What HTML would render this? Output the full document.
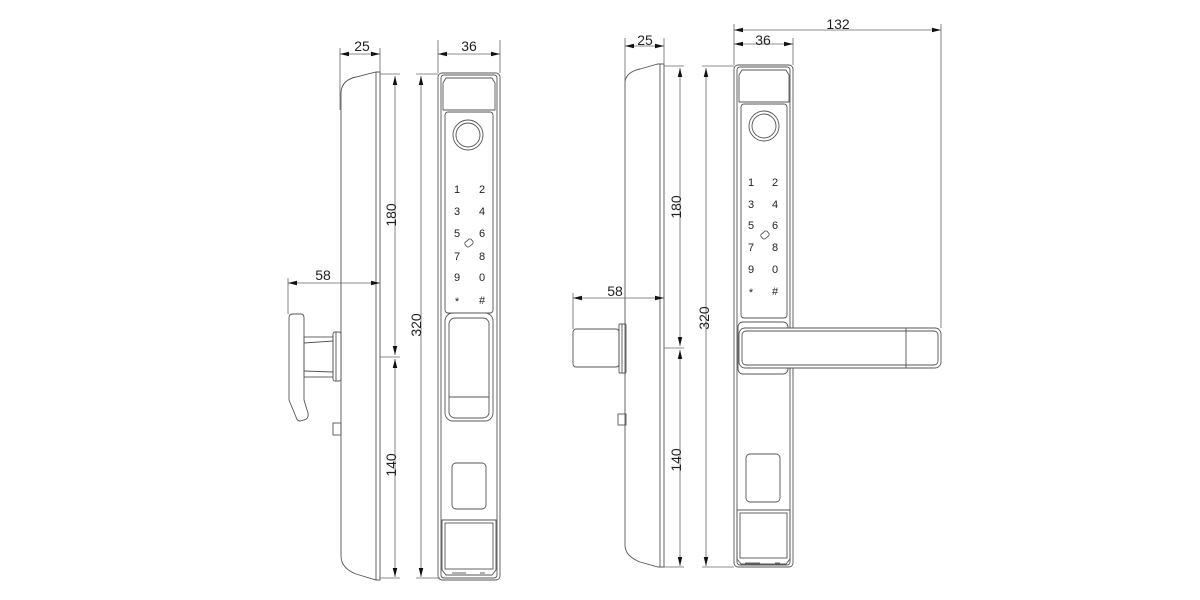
<!DOCTYPE html>
<html><head><meta charset="utf-8"><style>
html,body{margin:0;padding:0;background:#fff;width:1200px;height:600px;overflow:hidden}
svg text{font-family:"Liberation Sans",sans-serif;fill:#222}
</style></head><body>
<svg width="1200" height="600" viewBox="0 0 1200 600" xmlns="http://www.w3.org/2000/svg">
<defs>
<marker id="a" viewBox="0 0 10 10" refX="10" refY="5" markerWidth="9" markerHeight="9" orient="auto-start-reverse" markerUnits="userSpaceOnUse"><path d="M0,2.5 L10,5 L0,7.5z" fill="#111"/></marker>
</defs>
<g fill="none" stroke="#555" stroke-width="0.9">
<!-- ===== LEFT SIDE VIEW ===== -->
<path d="M341,110 L341,92 Q342,80 356,77 L376,72 L380,72 L380,580 L376,580 L356,574 Q341,568 341,556 L341,520"/>
<line x1="341" y1="110" x2="341" y2="520"/>
<line x1="376" y1="72" x2="376" y2="580"/>
<!-- knob -->
<path d="M289,318 Q289,314 293,314 L301,314 Q304,314 304,318 L304,400 L308,413 Q309,419 304,420 L300,421 Q297,421 296,417 L289,400 Z"/>
<rect x="304" y="337" width="29" height="40"/>
<line x1="304" y1="343" x2="333" y2="341"/><line x1="304" y1="371" x2="333" y2="372"/>
<rect x="333" y="332" width="8" height="49" rx="2"/>
<line x1="336" y1="332" x2="336" y2="381"/>
<rect x="333" y="423" width="8" height="12"/>
<!-- ===== LEFT FRONT VIEW ===== -->
<rect x="438" y="73" width="62" height="507" rx="4"/>
<rect x="441" y="75" width="56" height="503" rx="3"/>
<path d="M443,83 L446,78 L492,78 L495,83 L495,110 L443,110 Z"/>
<rect x="445" y="112" width="48" height="201" rx="3"/>
<circle cx="468" cy="135" r="15"/><circle cx="468" cy="135" r="12"/>
<rect x="445" y="313" width="48" height="108" rx="8"/>
<rect x="449" y="318" width="40" height="100" rx="6"/>
<line x1="449" y1="397" x2="489" y2="397"/>
<rect x="452" y="463" width="34" height="46" rx="4"/>
<path d="M442,520 L496,520 L496,570 L492,575 L446,575 L442,570 Z"/>
<rect x="445" y="523" width="48" height="46"/>
<line x1="452" y1="573" x2="466" y2="573"/><line x1="480" y1="573" x2="485" y2="573"/>
<!-- ===== RIGHT SIDE VIEW ===== -->
<path d="M625,100 L625,82 Q626,72 640,69 L658,64 L664,64 L664,567 L658,567 L640,562 Q625,556 625,545 L625,520"/>
<line x1="625" y1="100" x2="625" y2="520"/>
<line x1="660" y1="64" x2="660" y2="567"/>
<rect x="573" y="329" width="46" height="38" rx="3"/>
<rect x="619" y="324" width="7" height="49" rx="1"/>
<line x1="622" y1="324" x2="622" y2="373"/>
<rect x="618" y="414" width="8" height="11"/>
<!-- ===== RIGHT FRONT VIEW ===== -->
<rect x="734" y="65" width="59" height="502" rx="4"/>
<rect x="737" y="67" width="53" height="498" rx="3"/>
<path d="M739,75 L742,70 L786,70 L789,75 L789,102 L739,102 Z"/>
<rect x="741" y="104" width="46" height="214" rx="3"/>
<circle cx="764" cy="126" r="15"/><circle cx="764" cy="126" r="12"/>
<rect x="738" y="322" width="50" height="52" rx="5" fill="#fff"/>
<rect x="739" y="328" width="202" height="40" rx="6" fill="#fff"/>
<rect x="742" y="331" width="196" height="34" rx="4"/>
<line x1="906" y1="328" x2="906" y2="368"/>
<rect x="746" y="454" width="34" height="48" rx="4"/>
<path d="M737,510 L790,510 L790,559 L786,564 L741,564 L737,559 Z"/>
<rect x="740" y="513" width="47" height="45"/>
<line x1="745" y1="563" x2="760" y2="563"/><line x1="775" y1="563" x2="780" y2="563"/>
</g>
<!-- keypad text -->
<g font-size="11" text-anchor="middle" style="fill:#555">
<text x="457" y="193">1</text><text x="482" y="193">2</text>
<text x="457" y="215">3</text><text x="482" y="215">4</text>
<text x="457" y="237">5</text><text x="482" y="237">6</text>
<text x="457" y="260">7</text><text x="482" y="260">8</text>
<text x="457" y="281">9</text><text x="482" y="281">0</text>
<text x="457" y="305">*</text><text x="482" y="304">#</text>
<text x="751" y="186">1</text><text x="775" y="186">2</text>
<text x="751" y="208">3</text><text x="775" y="208">4</text>
<text x="751" y="229">5</text><text x="775" y="229">6</text>
<text x="751" y="251">7</text><text x="775" y="251">8</text>
<text x="751" y="273">9</text><text x="775" y="273">0</text>
<text x="751" y="296">*</text><text x="775" y="295">#</text>
</g>
<g fill="none" stroke="#555" stroke-width="0.9">
<rect x="465" y="240" width="8" height="6" rx="2" transform="rotate(-40 469 243)"/>
<rect x="761" y="232" width="8" height="6" rx="2" transform="rotate(-40 765 235)"/>
</g>
<!-- ===== DIMENSIONS ===== -->
<g stroke="#666" stroke-width="0.8" fill="none">
<line x1="340" y1="48" x2="340" y2="110"/><line x1="380" y1="48" x2="380" y2="72"/>
<line x1="340" y1="54" x2="380" y2="54" marker-start="url(#a)" marker-end="url(#a)"/>
<line x1="438" y1="40" x2="438" y2="73"/><line x1="500" y1="40" x2="500" y2="73"/>
<line x1="438" y1="54" x2="500" y2="54" marker-start="url(#a)" marker-end="url(#a)"/>
<line x1="380" y1="74" x2="400" y2="74"/>
<line x1="395" y1="76" x2="395" y2="355" marker-start="url(#a)" marker-end="url(#a)"/>
<line x1="380" y1="357" x2="400" y2="357"/>
<line x1="395" y1="359" x2="395" y2="577" marker-start="url(#a)" marker-end="url(#a)"/>
<line x1="380" y1="578" x2="400" y2="578"/>
<line x1="416" y1="74" x2="438" y2="74"/><line x1="416" y1="578" x2="440" y2="578"/>
<line x1="421" y1="76" x2="421" y2="577" marker-start="url(#a)" marker-end="url(#a)"/>
<line x1="288" y1="278" x2="288" y2="314"/>
<line x1="288" y1="283" x2="380" y2="283" marker-start="url(#a)" marker-end="url(#a)"/>
<line x1="625" y1="38" x2="625" y2="100"/><line x1="664" y1="38" x2="664" y2="64"/>
<line x1="625" y1="46" x2="664" y2="46" marker-start="url(#a)" marker-end="url(#a)"/>
<line x1="734" y1="24" x2="734" y2="65"/><line x1="793" y1="38" x2="793" y2="65"/>
<line x1="734" y1="44" x2="793" y2="44" marker-start="url(#a)" marker-end="url(#a)"/>
<line x1="941" y1="24" x2="941" y2="328"/>
<line x1="734" y1="30" x2="941" y2="30" marker-start="url(#a)" marker-end="url(#a)"/>
<line x1="664" y1="66" x2="684" y2="66"/>
<line x1="680" y1="68" x2="680" y2="346" marker-start="url(#a)" marker-end="url(#a)"/>
<line x1="664" y1="348" x2="684" y2="348"/>
<line x1="680" y1="350" x2="680" y2="566" marker-start="url(#a)" marker-end="url(#a)"/>
<line x1="664" y1="567" x2="684" y2="567"/>
<line x1="702" y1="66" x2="734" y2="66"/><line x1="702" y1="567" x2="734" y2="567"/>
<line x1="706" y1="68" x2="706" y2="566" marker-start="url(#a)" marker-end="url(#a)"/>
<line x1="573" y1="293" x2="573" y2="329"/>
<line x1="573" y1="298" x2="664" y2="298" marker-start="url(#a)" marker-end="url(#a)"/>
</g>
<g font-size="14" text-anchor="middle">
<text x="362" y="51">25</text>
<text x="469" y="51">36</text>
<text x="323" y="280">58</text>
<text transform="translate(396,215) rotate(-90)">180</text>
<text transform="translate(396,465) rotate(-90)">140</text>
<text transform="translate(421,325) rotate(-90)">320</text>
<text x="645" y="45">25</text>
<text x="763" y="45">36</text>
<text x="838" y="29">132</text>
<text x="615" y="296">58</text>
<text transform="translate(681,207) rotate(-90)">180</text>
<text transform="translate(681,460) rotate(-90)">140</text>
<text transform="translate(709,318) rotate(-90)">320</text>
</g>
</svg>
</body></html>
